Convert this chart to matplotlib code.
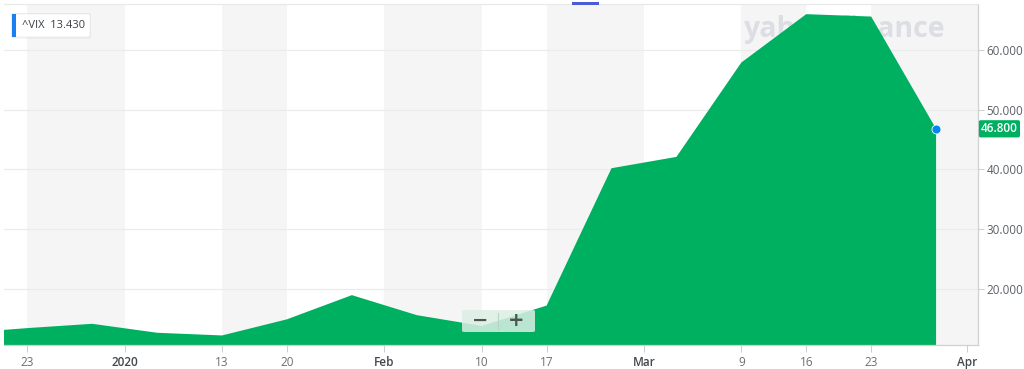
import matplotlib
matplotlib.use("Agg")
import matplotlib.pyplot as plt
import matplotlib.dates as mdates
import pandas as pd
from matplotlib.patches import FancyBboxPatch, Rectangle

# ---------------- data ----------------
week_dates = ["2019-12-16", "2019-12-23", "2019-12-30", "2020-01-06", "2020-01-13",
              "2020-01-20", "2020-01-27", "2020-02-03", "2020-02-10", "2020-02-17",
              "2020-02-24", "2020-03-02", "2020-03-09", "2020-03-16", "2020-03-23",
              "2020-03-30"]
vix_close = [12.6, 13.43, 14.15, 12.65, 12.2, 14.9, 18.95, 15.6, 13.8, 17.2,
             40.2, 42.1, 57.9, 66.0, 65.6, 46.8]
symbol = "^VIX"
legend_value = 13.43

tick_dates = ["2019-12-23 00:00", "2020-01-02 12:00", "2020-01-13 00:00", "2020-01-20 00:00",
              "2020-01-30 12:00", "2020-02-10 00:00", "2020-02-17 00:00", "2020-02-27 12:00",
              "2020-03-09 00:00", "2020-03-16 00:00", "2020-03-23 00:00", "2020-04-02 08:00"]
tick_labels = ["23", "2020", "13", "20", "Feb", "10", "17", "Mar", "9", "16", "23", "Apr"]
month_labels = ["2020", "Feb", "Mar", "Apr"]
y_ticks = [20, 30, 40, 50, 60]

# ---------------- figure ----------------
W, H = 1024, 369
fig = plt.figure(figsize=(W / 100, H / 100), dpi=100)
plt.rcParams['font.family'] = ['Open Sans', 'DejaVu Sans']

px_l, px_r, px_t, px_b = 4, 978, 4, 345
ax = fig.add_axes([px_l / W, (H - px_b) / H, (px_r - px_l) / W, (px_b - px_t) / H])

x = mdates.date2num(pd.to_datetime(week_dates, format="%Y-%m-%d"))
xt = mdates.date2num(pd.to_datetime(tick_dates, format="%Y-%m-%d %H:%M"))
x_left = mdates.date2num(pd.Timestamp("2019-12-20 11:45"))
x_right = mdates.date2num(pd.Timestamp("2020-04-03 12:30"))
ax.set_xlim(x_left, x_right)
ax.set_ylim(10.6, 67.7)

# alternating background bands
band_col = '#f5f5f6'
for i in range(0, len(xt), 2):
    x1 = xt[i + 1] if i + 1 < len(xt) else x_right
    ax.axvspan(xt[i], x1, color=band_col, lw=0, zorder=0)
ax.axvspan(xt[-1], x_right, color=band_col, lw=0, zorder=0)

ax.set_axisbelow(True)
ax.yaxis.grid(True, color='#ebebeb', lw=0.8)

# watermark
ax.text(0.760, 0.925, "yahoo!finance", transform=ax.transAxes, fontsize=20.5,
        fontweight='bold', color='#dcdee3', ha='left', va='center', zorder=1)

green = '#00b061'
ax.fill_between(x, vix_close, 0, color=green, lw=0, zorder=2)
ax.plot(x[-1], vix_close[-1], 'o', color='#0a84f0', ms=6.5, mec='white', mew=0.6,
        zorder=5, clip_on=False)

# axes styling
ax.spines['left'].set_visible(False)
ax.spines['top'].set_color('#e8e8e8')
ax.spines['right'].set_color('#d0d0d0')
ax.spines['bottom'].set_color('#d0d0d0')
for s in ['top', 'right', 'bottom']:
    ax.spines[s].set_linewidth(0.9)

ax.yaxis.tick_right()
ax.set_yticks(y_ticks)
ax.set_yticklabels([f"{v:.3f}" for v in y_ticks])
ax.tick_params(axis='y', length=4, width=0.8, color='#d0d0d0', pad=2,
               labelsize=8.4, labelcolor='#5c6168')
ax.set_xticks(xt)
ax.set_xticklabels(tick_labels)
ax.tick_params(axis='x', length=5, width=0.8, color='#d0d0d0', pad=3,
               labelsize=8.5, labelcolor='#6b7075')
for lab in ax.get_xticklabels():
    if lab.get_text() in month_labels:
        lab.set_color('#43484e')
        lab.set_fontweight('semibold')

# last value label
ax.text(1.0 + 3 / 974, vix_close[-1], f"{vix_close[-1]:.3f}",
        transform=ax.get_yaxis_transform(), ha='left', va='center',
        fontsize=8.5, color='white', fontweight='semibold', zorder=6, clip_on=False,
        bbox=dict(boxstyle='round,pad=0.18,rounding_size=0.15', fc=green, ec='none'))

# legend box (top-left)
def fr(xp, yp):
    return xp / W, (H - yp) / H

sx, sy = fr(11, 38.5)
fig.patches.append(FancyBboxPatch((sx, sy), 80 / W, 25.5 / H,
                                  boxstyle='round,pad=0,rounding_size=0.004',
                                  transform=fig.transFigure, fc='#000000', alpha=0.06,
                                  ec='none', zorder=10))
bx, by = fr(12, 37)
fig.patches.append(FancyBboxPatch((bx, by), 78 / W, 23 / H,
                                  boxstyle='round,pad=0,rounding_size=0.003',
                                  transform=fig.transFigure, fc='white', ec='#ececec',
                                  lw=0.6, zorder=11))
fig.patches.append(Rectangle((bx, by), 4 / W, 23 / H, transform=fig.transFigure,
                             fc='#1a7ff0', ec='none', zorder=12))
tx, ty = fr(22, 25.5)
fig.text(tx, ty, f"{symbol}  {legend_value:.3f}", fontsize=8, color='#3a3f45',
         ha='left', va='center', zorder=13)

# zoom buttons
zx, zy = fr(462, 332)
fig.patches.append(FancyBboxPatch((zx, zy), 73 / W, 22 / H,
                                  boxstyle='round,pad=0,rounding_size=0.003',
                                  transform=fig.transFigure, fc='#dcefe5', alpha=0.85,
                                  ec='none', zorder=10))
lx0, ly0 = fr(498, 329)
lx1, ly1 = fr(498, 313)
fig.add_artist(plt.Line2D([lx0, lx1], [ly0, ly1], transform=fig.transFigure,
                          color='#b5d6c3', lw=0.8, zorder=11))
mx, my = fr(480, 320)
fig.text(mx, my, "\u2212", fontsize=14, fontweight='bold', color='#4a574f',
         ha='center', va='center', zorder=12, family='DejaVu Sans')
px_, py_ = fr(516, 320)
fig.text(px_, py_, "+", fontsize=14, fontweight='bold', color='#4a574f',
         ha='center', va='center', zorder=12, family='DejaVu Sans')

# top blue marker
tmx, tmy = fr(572, 5)
fig.patches.append(Rectangle((tmx, tmy), 27 / W, 3 / H, transform=fig.transFigure,
                             fc='#4b5bd3', ec='none', zorder=12))

fig.savefig("out.png", dpi=100)
